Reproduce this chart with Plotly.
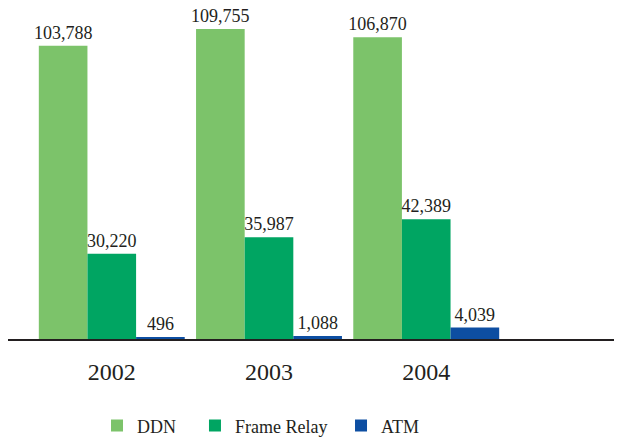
import plotly.graph_objects as go

years = ["2002", "2003", "2004"]
ddn = [103788, 109755, 106870]
frame_relay = [30220, 35987, 42389]
atm = [496, 1088, 4039]

series = [
    ("DDN", ddn, "#7cc36a", "legend", 0.1431),
    ("Frame Relay", frame_relay, "#00a562", "legend2", 0.3006),
    ("ATM", atm, "#0d4ea2", "legend3", 0.5354),
]

FONT = "Liberation Serif"
TXT = "#231f20"

fig = go.Figure()
legends = {}
for name, vals, col, lg, lx in series:
    fig.add_trace(go.Bar(
        x=list(range(len(years))), y=vals, name=name,
        marker=dict(color=col, line=dict(width=0)),
        text=[f"{v:,}" for v in vals], textposition="outside",
        textfont=dict(family=FONT, size=18, color=TXT),
        constraintext="none",
        cliponaxis=False, legend=lg,
    ))
    legends[lg] = dict(orientation="h", x=lx, xanchor="left", y=-0.2624, yanchor="middle",
                       font=dict(family=FONT, size=18, color=TXT),
                       bgcolor="rgba(0,0,0,0)", borderwidth=0)

fig.update_layout(
    width=622, height=440,
    margin=dict(l=0, r=0, t=0, b=108.5, autoexpand=False),
    paper_bgcolor="white", plot_bgcolor="white",
    barmode="group", bargap=0.072, bargroupgap=0,
    font=dict(family=FONT, color=TXT),
    showlegend=True,
    xaxis=dict(range=[-0.660, 3.296], tickvals=[0, 1, 2], ticktext=years,
               showline=True, linecolor="#231f20", linewidth=2,
               ticks="", showgrid=False, zeroline=False,
               tickfont=dict(family=FONT, size=24, color=TXT),
               ticklabelstandoff=10),
    yaxis=dict(range=[0, 117185], visible=False, showgrid=False, zeroline=False),
    **legends,
)

fig.write_html("out.html")
